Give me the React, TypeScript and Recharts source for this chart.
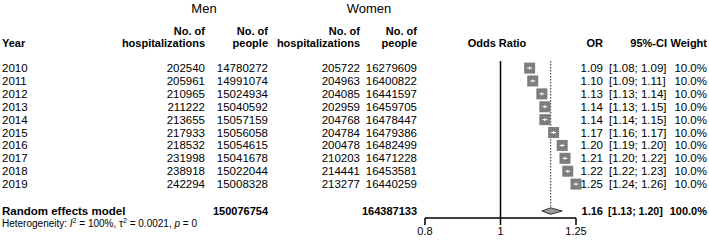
import { ComposedChart, Scatter, XAxis, YAxis, ReferenceLine, Customized } from "recharts";

const FONT = '"Liberation Sans", Arial, Helvetica, sans-serif';

const years = [2010, 2011, 2012, 2013, 2014, 2015, 2016, 2017, 2018, 2019];
const menHosp = [202540, 205961, 210965, 211222, 213655, 217933, 218532, 231998, 238918, 242294];
const menPeople = [14780272, 14991074, 15024934, 15040592, 15057159, 15056058, 15054615, 15041678, 15022044, 15008328];
const womenHosp = [205722, 204963, 204085, 202959, 204768, 204784, 200478, 210203, 214441, 213277];
const womenPeople = [16279609, 16400822, 16441597, 16459705, 16478447, 16479386, 16482499, 16471228, 16453581, 16440259];
const oddsRatio = [1.09, 1.1, 1.13, 1.14, 1.14, 1.17, 1.2, 1.21, 1.22, 1.25];
const ciLower = [1.08, 1.09, 1.13, 1.13, 1.14, 1.16, 1.19, 1.2, 1.22, 1.24];
const ciUpper = [1.09, 1.11, 1.14, 1.15, 1.15, 1.17, 1.2, 1.22, 1.23, 1.26];
const weights = [10, 10, 10, 10, 10, 10, 10, 10, 10, 10];

const pooled = { menPeople: 150076754, womenPeople: 164387133, or: 1.16, lo: 1.13, hi: 1.2, weight: 100 };
const xTicks = [0.8, 1, 1.25];

const POOLED_ROW = 11.09;
const DIAMOND_HALF = 0.25;

const studies = years.map((year, i) => ({
  year,
  menHosp: menHosp[i],
  menPeople: menPeople[i],
  womenHosp: womenHosp[i],
  womenPeople: womenPeople[i],
  or: oddsRatio[i],
  lo: ciLower[i],
  hi: ciUpper[i],
  weight: weights[i],
  row: i,
}));

const pooledRow = [{ ...pooled, row: POOLED_ROW }];
const diamond = [
  { or: pooled.lo, row: POOLED_ROW },
  { or: pooled.or, row: POOLED_ROW - DIAMOND_HALF },
  { or: pooled.hi, row: POOLED_ROW },
  { or: pooled.or, row: POOLED_ROW + DIAMOND_HALF },
];

const f2 = (v: number) => v.toFixed(2);
const ci = (lo: number, hi: number) => `[${f2(lo)}; ${f2(hi)}]`;

const cell = { fontFamily: FONT, fontSize: 11.5, fill: "#000" };

const StudyShape = (props: any) => {
  const { cx, cy, payload } = props;
  const ty = cy + 4;
  return (
    <g>
      <rect x={cx - 5.5} y={cy - 5.5} width={11} height={11} fill="#7d7d7d" />
      <line x1={cx - 2.5} x2={cx + 2.5} y1={cy} y2={cy} stroke="#fff" strokeWidth={1} />
      <line x1={cx} x2={cx} y1={cy - 1.5} y2={cy + 1.5} stroke="#fff" strokeWidth={1} />
      <text x={2} y={ty} {...cell}>{payload.year}</text>
      <text x={205} y={ty} textAnchor="end" {...cell}>{payload.menHosp}</text>
      <text x={268} y={ty} textAnchor="end" {...cell}>{payload.menPeople}</text>
      <text x={360} y={ty} textAnchor="end" {...cell}>{payload.womenHosp}</text>
      <text x={417} y={ty} textAnchor="end" {...cell}>{payload.womenPeople}</text>
      <text x={603} y={ty} textAnchor="end" {...cell}>{f2(payload.or)}</text>
      <text x={609} y={ty} {...cell}>{ci(payload.lo, payload.hi)}</text>
      <text x={707} y={ty} textAnchor="end" {...cell}>{payload.weight.toFixed(1)}%</text>
    </g>
  );
};

const PooledShape = (props: any) => {
  const { cy, payload } = props;
  const ty = cy + 4;
  const b = { ...cell, fontSize: 11, fontWeight: "bold" as const };
  return (
    <g>
      <text x={2} y={ty} {...b} fontSize={11.5}>Random effects model</text>
      <text x={268} y={ty} textAnchor="end" {...b}>{payload.menPeople}</text>
      <text x={417} y={ty} textAnchor="end" {...b}>{payload.womenPeople}</text>
      <text x={603} y={ty} textAnchor="end" {...b}>{f2(payload.or)}</text>
      <text x={608} y={ty} {...b} fontSize={10.6}>{ci(payload.lo, payload.hi)}</text>
      <text x={707} y={ty} textAnchor="end" {...b}>{payload.weight.toFixed(1)}%</text>
      <text x={2} y={ty + 12} fontFamily={FONT} fontSize={10} fill="#000">
        Heterogeneity: <tspan fontStyle="italic">I</tspan>
        <tspan dy={-4} fontSize={7}>2</tspan>
        <tspan dy={4}> = 100%, τ</tspan>
        <tspan dy={-4} fontSize={7}>2</tspan>
        <tspan dy={4}> = 0.0021, </tspan>
        <tspan fontStyle="italic">p</tspan>
        <tspan> = 0</tspan>
      </text>
    </g>
  );
};

const DiamondLine = (props: any) => {
  const pts = (props.points || []).map((p: any) => `${p.x},${p.y}`).join(" ");
  return <polygon points={pts} fill="#9a9a9a" stroke="#333" strokeWidth={1} />;
};

const Headers = () => {
  const h = { ...cell, fontSize: 11, fontWeight: "bold" as const };
  return (
    <g>
      <text x={204} y={12.5} textAnchor="middle" fontFamily={FONT} fontSize={13} fill="#000">Men</text>
      <text x={369} y={12.5} textAnchor="middle" fontFamily={FONT} fontSize={13} fill="#000">Women</text>
      <text x={2} y={47} {...h}>Year</text>
      <text x={205} y={35} textAnchor="end" {...h}>No. of</text>
      <text x={205} y={47} textAnchor="end" {...h}>hospitalizations</text>
      <text x={268} y={35} textAnchor="end" {...h}>No. of</text>
      <text x={268} y={47} textAnchor="end" {...h}>people</text>
      <text x={360} y={35} textAnchor="end" {...h}>No. of</text>
      <text x={360} y={47} textAnchor="end" {...h}>hospitalizations</text>
      <text x={417} y={35} textAnchor="end" {...h}>No. of</text>
      <text x={417} y={47} textAnchor="end" {...h}>people</text>
      <text x={497} y={47} textAnchor="middle" {...h}>Odds Ratio</text>
      <text x={603} y={47} textAnchor="end" {...h}>OR</text>
      <text x={667} y={47} textAnchor="end" {...h}>95%-CI</text>
      <text x={707} y={47} textAnchor="end" {...h}>Weight</text>
    </g>
  );
};

export default function App() {
  return (
    <div style={{ position: "absolute", left: 0, top: 0, background: "#fff" }}>
      <ComposedChart width={709} height={243} margin={{ top: 61, right: 133, bottom: 0, left: 425 }}>
        <XAxis
          dataKey="or"
          type="number"
          scale="log"
          domain={[0.8, 1.25]}
          ticks={xTicks}
          interval={0}
          tickFormatter={(v: number) => String(v)}
          height={25}
          tickSize={7}
          axisLine={{ stroke: "#000", strokeWidth: 1.5 }}
          tickLine={{ stroke: "#000", strokeWidth: 1.5 }}
          tick={{ fill: "#000", fontSize: 11, fontFamily: FONT }}
        />
        <YAxis dataKey="row" type="number" domain={[-0.55, 11.63]} reversed hide />
        <ReferenceLine x={1} stroke="#000" strokeWidth={1.5} />
        <ReferenceLine
          segment={[{ x: pooled.or, y: -0.55 }, { x: pooled.or, y: POOLED_ROW - DIAMOND_HALF }]}
          stroke="#222"
          strokeWidth={1}
          strokeDasharray="1.5 1.5"
        />
        <Scatter data={studies} shape={StudyShape} isAnimationActive={false} />
        <Scatter data={diamond} shape={() => <g />} line={DiamondLine} lineType="joint" isAnimationActive={false} />
        <Scatter data={pooledRow} shape={PooledShape} isAnimationActive={false} />
        <Customized component={<Headers />} />
      </ComposedChart>
    </div>
  );
}
